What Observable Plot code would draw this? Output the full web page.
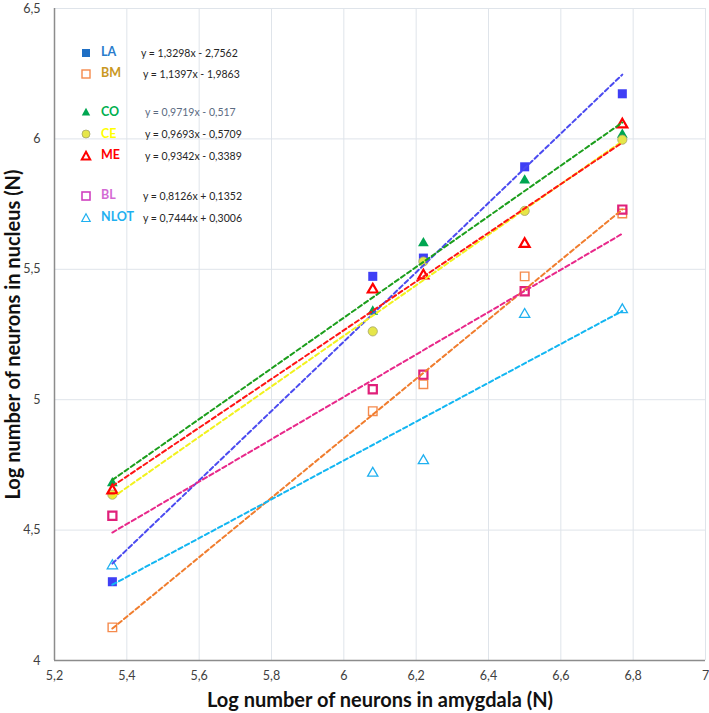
<!DOCTYPE html>
<html>
<head>
<meta charset="utf-8">
<script src="https://cdn.jsdelivr.net/npm/d3@7"></script>
<script src="https://cdn.jsdelivr.net/npm/@observablehq/plot@0.6"></script>
<style>
  html, body { margin: 0; padding: 0; background: #fff; }
  #wrap { position: relative; width: 709px; height: 713px; font-family: Lato, "Open Sans", sans-serif; }
  #wrap svg { overflow: visible; }
  .leg { position: absolute; white-space: nowrap; line-height: 14px; }
  .lab { font-weight: 700; font-size: 12.5px; }
  .eq { font-size: 10.5px; color: #262626; }
</style>
</head>
<body>
<div id="wrap"></div>
<script>
// ---- data ----
const series = ["LA", "BM", "CO", "CE", "ME", "BL", "NLOT"];
const xAmygdala = [5.36, 6.08, 6.22, 6.50, 6.77];
const LA   = [4.302, 5.473, 5.543, 5.893, 6.173];
const BM   = [4.127, 4.956, 5.059, 5.473, 5.714];
const CO   = [4.680, 5.338, 5.600, 5.841, 6.016];
const CE   = [4.636, 5.262, 5.530, 5.724, 5.997];
const ME   = [4.652, 5.422, 5.476, 5.597, 6.055];
const BL   = [4.555, 5.040, 5.096, 5.416, 5.729];
const NLOT = [4.363, 4.718, 4.766, 5.327, 5.345];
const slopes     = [1.3298, 1.1397, 0.9719, 0.9693, 0.9342, 0.8126, 0.7444];
const intercepts = [-2.7562, -1.9863, -0.517, -0.5709, -0.3389, 0.1352, 0.3006];
const equations = [
  "y = 1,3298x - 2,7562",
  "y = 1,1397x - 1,9863",
  "y = 0,9719x - 0,517",
  "y = 0,9693x - 0,5709",
  "y = 0,9342x - 0,3389",
  "y = 0,8126x + 0,1352",
  "y = 0,7444x + 0,3006"
];
const xTicks = [5.2, 5.4, 5.6, 5.8, 6, 6.2, 6.4, 6.6, 6.8, 7];
const yTicks = [4, 4.5, 5, 5.5, 6, 6.5];
const xTitle = "Log number of neurons in amygdala (N)";
const yTitle = "Log number of neurons in nucleus (N)";

const values = {LA, BM, CO, CE, ME, BL, NLOT};

// ---- styles ----
const dotStyle = {
  LA:   {symbol: "square",   r: 5.1, fill: "#3f3ff5", stroke: "none"},
  BM:   {symbol: "square",   r: 4.8, fill: "none", stroke: "#f58a4c", strokeWidth: 1.4},
  CO:   {symbol: "triangle", r: 4.0, fill: "#00a651", stroke: "none"},
  CE:   {symbol: "circle",   r: 4.6, fill: "#e6e64a", stroke: "#a5a56a", strokeWidth: 0.8},
  ME:   {symbol: "triangle", r: 3.7, fill: "none", stroke: "#ff0000", strokeWidth: 2.2},
  BL:   {symbol: "square",   r: 4.6, fill: "none", stroke: "#e0207a", strokeWidth: 2.2},
  NLOT: {symbol: "triangle", r: 3.8, fill: "none", stroke: "#1fb0f0", strokeWidth: 1.3}
};
const lineColor = {
  LA: "#4b4bf0", BM: "#f07d2e", CO: "#1c9e1c", CE: "#f2f21e",
  ME: "#ff1414", BL: "#e8288a", NLOT: "#12b6f2"
};
const legendMarker = {
  LA:   {shape: "square", fill: "#1f6fc4", stroke: "none"},
  BM:   {shape: "square", fill: "none", stroke: "#f58a4c", sw: 1.4},
  CO:   {shape: "triangle", fill: "#00a651", stroke: "none"},
  CE:   {shape: "circle", fill: "#e6e64a", stroke: "#a5a56a", sw: 0.8},
  ME:   {shape: "triangle", fill: "none", stroke: "#ff0000", sw: 2},
  BL:   {shape: "square", fill: "none", stroke: "#d040c0", sw: 1.6},
  NLOT: {shape: "triangle", fill: "none", stroke: "#1fb0f0", sw: 1.2}
};
const labelColor = {
  LA: "#2a7ccc", BM: "#c9981f", CO: "#00b050", CE: "#ffff00",
  ME: "#ff0000", BL: "#d46ad4", NLOT: "#1fb0f0"
};
const eqColor = {CO: "#5b6b82"};
const rowY = [52.5, 73.5, 112, 134, 155.5, 195.5, 217.5];
const eqX = [141, 143, 145, 145, 145, 143, 143];

// ---- tables ----
const points = series.map(s => xAmygdala.map((x, i) => ({series: s, x, y: values[s][i]})));
const xmin = d3.min(xAmygdala), xmax = d3.max(xAmygdala);
const fits = series.map((s, k) => [xmin, xmax].map(x => ({series: s, x, y: slopes[k] * x + intercepts[k]})));

const fmt = d => String(d).replace(".", ",");

const marks = [
  Plot.gridX(xTicks, {stroke: "#dfe4ea", strokeOpacity: 1}),
  Plot.gridY(yTicks, {stroke: "#dfe4ea", strokeOpacity: 1}),
  Plot.axisX(xTicks, {tickSize: 0, tickPadding: 11, tickFormat: fmt, fontSize: 12.5, color: "#404040", label: null}),
  Plot.axisY(yTicks, {tickSize: 0, tickPadding: 14, tickFormat: fmt, fontSize: 12.5, color: "#404040", label: null}),
  Plot.ruleX([5.2], {stroke: "#8c8c8c", strokeWidth: 1.5}),
  Plot.ruleY([4], {stroke: "#8c8c8c", strokeWidth: 1.5})
];
series.forEach((s, k) => {
  const st = dotStyle[s];
  marks.push(Plot.dot(points[k], {x: "x", y: "y", ...st}));
});
series.forEach((s, k) => {
  marks.push(Plot.line(fits[k], {x: "x", y: "y", stroke: lineColor[s], strokeWidth: 2, strokeDasharray: "4.5,3"}));
});
marks.push(Plot.text([xTitle], {frameAnchor: "bottom", dy: 46, textAnchor: "middle", fontSize: 20, fontWeight: "bold", fill: "#111", fontFamily: "Lato"}));
marks.push(Plot.text([yTitle], {frameAnchor: "left", dx: -41, textAnchor: "middle", rotate: -90, fontSize: 20, fontWeight: "bold", fill: "#111", fontFamily: "Lato"}));

const chart = Plot.plot({
  width: 709,
  height: 713,
  marginLeft: 54,
  marginRight: 4,
  marginTop: 8,
  marginBottom: 53,
  style: {fontFamily: "Lato, sans-serif", background: "white"},
  x: {domain: [5.2, 7]},
  y: {domain: [4, 6.5]},
  marks
});
const wrap = document.getElementById("wrap");
wrap.appendChild(chart);

// ---- legend overlay ----
function markerSvg(m) {
  let shape;
  if (m.shape === "square") shape = `<rect x="2" y="2" width="8" height="8" fill="${m.fill}" stroke="${m.stroke}" stroke-width="${m.sw || 0}"/>`;
  else if (m.shape === "circle") shape = `<circle cx="6" cy="6" r="4" fill="${m.fill}" stroke="${m.stroke}" stroke-width="${m.sw || 0}"/>`;
  else shape = `<path d="M6,1.8 L10.2,9.5 L1.8,9.5 Z" fill="${m.fill}" stroke="${m.stroke}" stroke-width="${m.sw || 0}" stroke-linejoin="miter"/>`;
  return `<svg width="12" height="12" style="display:block">${shape}</svg>`;
}
series.forEach((s, k) => {
  const mk = document.createElement("div");
  mk.className = "leg";
  mk.style.left = "80px"; mk.style.top = (rowY[k] - 6) + "px";
  mk.innerHTML = markerSvg(legendMarker[s]);
  wrap.appendChild(mk);
  const lb = document.createElement("div");
  lb.className = "leg lab";
  lb.style.left = "101px"; lb.style.top = (rowY[k] - 7.5) + "px";
  lb.style.color = labelColor[s];
  lb.textContent = s;
  wrap.appendChild(lb);
  const eq = document.createElement("div");
  eq.className = "leg eq";
  eq.style.left = eqX[k] + "px"; eq.style.top = (rowY[k] - 7) + "px";
  if (eqColor[s]) eq.style.color = eqColor[s];
  eq.textContent = equations[k];
  wrap.appendChild(eq);
});
</script>
</body>
</html>
